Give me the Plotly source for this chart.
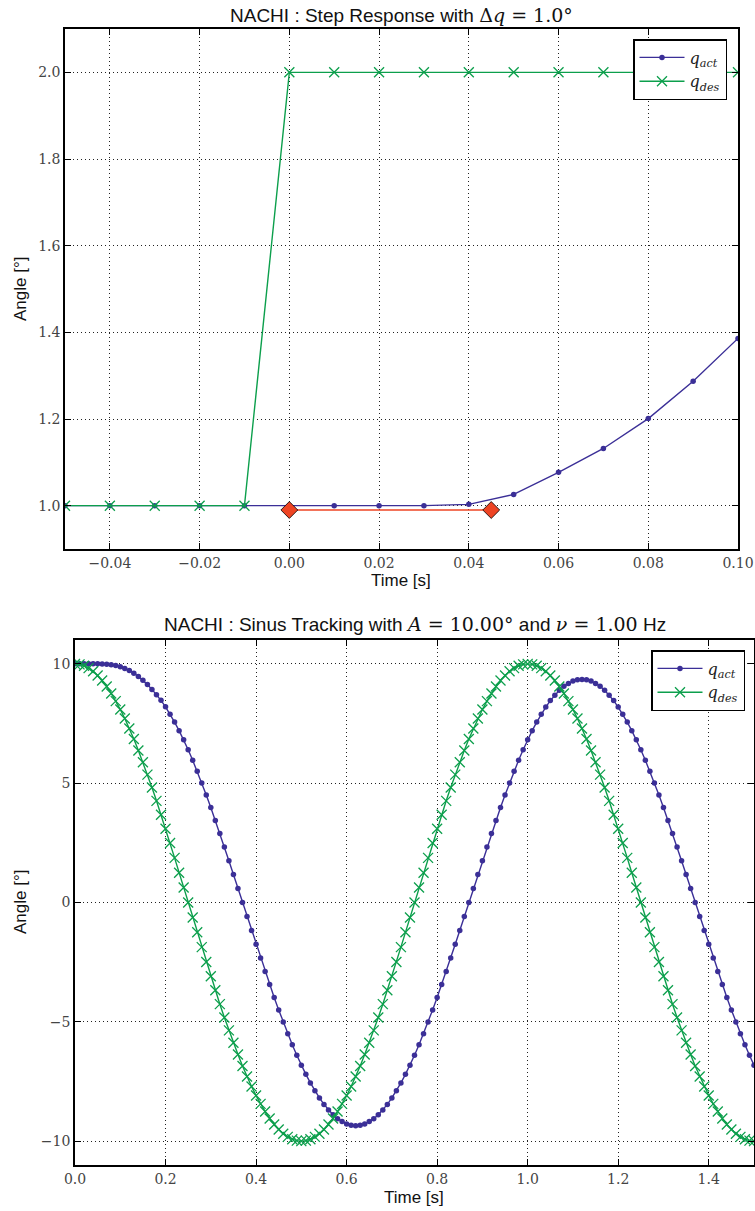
import plotly.graph_objects as go

# ---------------- data: step response ----------------
step_t = [-0.05, -0.04, -0.03, -0.02, -0.01, 0.00, 0.01, 0.02, 0.03, 0.04,
          0.05, 0.06, 0.07, 0.08, 0.09, 0.10]
step_q_act = [1.0, 1.0, 1.0, 1.0, 1.0, 1.0, 1.0, 1.0, 1.0, 1.003,
              1.026, 1.077, 1.132, 1.201, 1.287, 1.386]
step_q_des = [1.0, 1.0, 1.0, 1.0, 1.0, 2.0, 2.0, 2.0, 2.0, 2.0,
              2.0, 2.0, 2.0, 2.0, 2.0, 2.0]
delay_t = [0.0, 0.045]
delay_y = [0.99, 0.99]

# ---------------- data: sinus tracking ----------------
sin_t = [
    0.00, 0.01, 0.02, 0.03, 0.04, 0.05, 0.06, 0.07, 0.08, 0.09,
    0.10, 0.11, 0.12, 0.13, 0.14, 0.15, 0.16, 0.17, 0.18, 0.19,
    0.20, 0.21, 0.22, 0.23, 0.24, 0.25, 0.26, 0.27, 0.28, 0.29,
    0.30, 0.31, 0.32, 0.33, 0.34, 0.35, 0.36, 0.37, 0.38, 0.39,
    0.40, 0.41, 0.42, 0.43, 0.44, 0.45, 0.46, 0.47, 0.48, 0.49,
    0.50, 0.51, 0.52, 0.53, 0.54, 0.55, 0.56, 0.57, 0.58, 0.59,
    0.60, 0.61, 0.62, 0.63, 0.64, 0.65, 0.66, 0.67, 0.68, 0.69,
    0.70, 0.71, 0.72, 0.73, 0.74, 0.75, 0.76, 0.77, 0.78, 0.79,
    0.80, 0.81, 0.82, 0.83, 0.84, 0.85, 0.86, 0.87, 0.88, 0.89,
    0.90, 0.91, 0.92, 0.93, 0.94, 0.95, 0.96, 0.97, 0.98, 0.99,
    1.00, 1.01, 1.02, 1.03, 1.04, 1.05, 1.06, 1.07, 1.08, 1.09,
    1.10, 1.11, 1.12, 1.13, 1.14, 1.15, 1.16, 1.17, 1.18, 1.19,
    1.20, 1.21, 1.22, 1.23, 1.24, 1.25, 1.26, 1.27, 1.28, 1.29,
    1.30, 1.31, 1.32, 1.33, 1.34, 1.35, 1.36, 1.37, 1.38, 1.39,
    1.40, 1.41, 1.42, 1.43, 1.44, 1.45, 1.46, 1.47, 1.48, 1.49,
    1.50,
]
sin_q_des = [
    10.00, 9.98, 9.92, 9.82, 9.69, 9.51, 9.30, 9.05, 8.76, 8.44, 8.09, 7.71, 7.29,
    6.85, 6.37, 5.88, 5.36, 4.82, 4.26, 3.68, 3.09, 2.49, 1.87, 1.25, 0.63, 0.00,
    -0.63, -1.25, -1.87, -2.49, -3.09, -3.68, -4.26, -4.82, -5.36, -5.88, -6.37, -6.85,
    -7.29, -7.71, -8.09, -8.44, -8.76, -9.05, -9.30, -9.51, -9.69, -9.82, -9.92, -9.98, -10.00,
    -9.98, -9.92, -9.82, -9.69, -9.51, -9.30, -9.05, -8.76, -8.44, -8.09, -7.71, -7.29,
    -6.85, -6.37, -5.88, -5.36, -4.82, -4.26, -3.68, -3.09, -2.49, -1.87, -1.25, -0.63, 0.00,
    0.63, 1.25, 1.87, 2.49, 3.09, 3.68, 4.26, 4.82, 5.36, 5.88, 6.37, 6.85,
    7.29, 7.71, 8.09, 8.44, 8.76, 9.05, 9.30, 9.51, 9.69, 9.82, 9.92, 9.98, 10.00,
    9.98, 9.92, 9.82, 9.69, 9.51, 9.30, 9.05, 8.76, 8.44, 8.09, 7.71, 7.29,
    6.85, 6.37, 5.88, 5.36, 4.82, 4.26, 3.68, 3.09, 2.49, 1.87, 1.25, 0.63, 0.00,
    -0.63, -1.25, -1.87, -2.49, -3.09, -3.68, -4.26, -4.82, -5.36, -5.88, -6.37, -6.85,
    -7.29, -7.71, -8.09, -8.44, -8.76, -9.05, -9.30, -9.51, -9.69, -9.82, -9.92, -9.98, -10.00,
]
sin_q_act = [
    10.00, 10.00, 10.00, 10.00, 10.00, 10.00, 9.99, 9.98, 9.96, 9.93, 9.88,
    9.81, 9.72, 9.61, 9.47, 9.31, 9.13, 8.93, 8.71, 8.47, 8.20,
    7.89, 7.56, 7.20, 6.82, 6.40, 5.96, 5.50, 5.01, 4.50, 3.98, 3.44, 2.89,
    2.33, 1.75, 1.17, 0.59, 0.00,
    -0.59, -1.17, -1.75, -2.33, -2.89, -3.44, -3.98, -4.50, -5.01, -5.50, -5.96, -6.40,
    -6.82, -7.20, -7.56, -7.89, -8.19, -8.46, -8.69, -8.89, -9.06, -9.18, -9.28, -9.33, -9.35,
    -9.33, -9.28, -9.18, -9.06, -8.89, -8.69, -8.46, -8.19, -7.89, -7.56, -7.20, -6.82,
    -6.40, -5.96, -5.50, -5.01, -4.50, -3.98, -3.44, -2.89, -2.33, -1.75, -1.17, -0.59, 0.00,
    0.59, 1.17, 1.75, 2.33, 2.89, 3.44, 3.98, 4.50, 5.01, 5.50, 5.96, 6.40,
    6.82, 7.20, 7.56, 7.89, 8.19, 8.46, 8.69, 8.89, 9.06, 9.18, 9.28, 9.33, 9.35,
    9.33, 9.28, 9.18, 9.06, 8.89, 8.69, 8.46, 8.19, 7.89, 7.56, 7.20, 6.82,
    6.40, 5.96, 5.50, 5.01, 4.50, 3.98, 3.44, 2.89, 2.33, 1.75, 1.17, 0.59, 0.00,
    -0.59, -1.17, -1.75, -2.33, -2.89, -3.44, -3.98, -4.50, -5.01, -5.50, -5.96, -6.40, -6.82,
]

# tick values
step_xticks = [-0.04, -0.02, 0.00, 0.02, 0.04, 0.06, 0.08, 0.10]
step_yticks = [1.0, 1.2, 1.4, 1.6, 1.8, 2.0]
sin_xticks = [0.0, 0.2, 0.4, 0.6, 0.8, 1.0, 1.2, 1.4]
sin_yticks = [-10, -5, 0, 5, 10]

# ---------------- style ----------------
W, H = 755, 1211
BLUE = "#3b2f97"
GREEN = "#0c9f4c"
RED = "#ee4423"
SERIF = "DejaVu Serif"
SANS = "Liberation Sans"
MATH = "<span style='font-family:DejaVu Serif'>{}</span>"

def px_x(p):
    return p / W

def px_y(p):
    return 1 - p / H

fig = go.Figure()

# step response traces
fig.add_trace(go.Scatter(x=step_t, y=step_q_act, mode="lines+markers", name="<i>q</i><sub><i>act</i></sub>",
                         line=dict(color=BLUE, width=1.4), marker=dict(symbol="circle", size=5.5, color=BLUE),
                         xaxis="x", yaxis="y", legend="legend"))
fig.add_trace(go.Scatter(x=step_t, y=step_q_des, mode="lines+markers", name="<i>q</i><sub><i>des</i></sub>",
                         line=dict(color=GREEN, width=1.4),
                         marker=dict(symbol="x-thin", size=10, color=GREEN, line=dict(color=GREEN, width=1.3)),
                         xaxis="x", yaxis="y", legend="legend"))
fig.add_trace(go.Scatter(x=delay_t, y=delay_y, mode="lines+markers", showlegend=False,
                         line=dict(color=RED, width=1.6),
                         marker=dict(symbol="diamond", size=13, color=RED, line=dict(color="black", width=0.8)),
                         xaxis="x", yaxis="y"))

# sinus tracking traces
fig.add_trace(go.Scatter(x=sin_t, y=sin_q_act, mode="lines+markers", name="<i>q</i><sub><i>act</i></sub>",
                         line=dict(color=BLUE, width=1.4), marker=dict(symbol="circle", size=5.5, color=BLUE),
                         xaxis="x2", yaxis="y2", legend="legend2"))
fig.add_trace(go.Scatter(x=sin_t, y=sin_q_des, mode="lines+markers", name="<i>q</i><sub><i>des</i></sub>",
                         line=dict(color=GREEN, width=1.4),
                         marker=dict(symbol="x-thin", size=10, color=GREEN, line=dict(color=GREEN, width=1.3)),
                         xaxis="x2", yaxis="y2", legend="legend2"))

axis_common = dict(
    showline=True, linecolor="black", linewidth=1.6, mirror="allticks",
    ticks="inside", ticklen=6, tickwidth=1.2, tickcolor="black",
    showgrid=True, gridcolor="#222", gridwidth=1, griddash="1px,3px",
    zeroline=False, automargin=False,
    tickfont=dict(family=SERIF, size=14, color="#444"),
)

fig.update_layout(
    width=W, height=H, autosize=False, margin=dict(l=0, r=0, t=0, b=0),
    paper_bgcolor="white", plot_bgcolor="white",
    xaxis=dict(domain=[px_x(65), px_x(738)], anchor="y", range=[-0.05, 0.10],
               tickvals=step_xticks, tickformat=".2f", **axis_common),
    yaxis=dict(domain=[px_y(549), px_y(29)], anchor="x", range=[0.9, 2.1],
               tickvals=step_yticks, tickformat=".1f", **axis_common),
    xaxis2=dict(domain=[px_x(75), px_x(754)], anchor="y2", range=[0.0, 1.5],
                tickvals=sin_xticks, tickformat=".1f", **axis_common),
    yaxis2=dict(domain=[px_y(1165), px_y(640)], anchor="x2", range=[-11, 11],
                tickvals=sin_yticks, tickformat="d", **axis_common),
    legend=dict(x=px_x(727), y=px_y(39), xanchor="right", yanchor="top",
                bgcolor="white", bordercolor="black", borderwidth=1.5,
                font=dict(family=SERIF, size=16, color="#222"), itemwidth=45,
                tracegroupgap=0),
    legend2=dict(x=px_x(745), y=px_y(650), xanchor="right", yanchor="top",
                 bgcolor="white", bordercolor="black", borderwidth=1.5,
                 font=dict(family=SERIF, size=16, color="#222"), itemwidth=45,
                 tracegroupgap=0),
    showlegend=True,
)

title_font = dict(family=SANS, size=19, color="#111")
label_font = dict(family=SANS, size=17, color="#111")
annotations = [
    dict(text="NACHI : Step Response with " + MATH.format("Δ<i>q</i> = 1.0°"),
         x=px_x(401), y=px_y(15), xanchor="center", yanchor="middle", font=title_font),
    dict(text="NACHI : Sinus Tracking with " + MATH.format("<i>A</i> = 10.00°") + " and "
         + MATH.format("<i>ν</i> = 1.00") + " Hz",
         x=px_x(415), y=px_y(624), xanchor="center", yanchor="middle", font=title_font),
    dict(text="Time [s]", x=px_x(401), y=px_y(581), xanchor="center", yanchor="middle", font=label_font),
    dict(text="Time [s]", x=px_x(414), y=px_y(1197), xanchor="center", yanchor="middle", font=label_font),
    dict(text="Angle [°]", x=px_x(20), y=px_y(289), xanchor="center", yanchor="middle",
         textangle=-90, font=label_font),
    dict(text="Angle [°]", x=px_x(20), y=px_y(902), xanchor="center", yanchor="middle",
         textangle=-90, font=label_font),
]
for a in annotations:
    a.update(xref="paper", yref="paper", showarrow=False)
fig.update_layout(annotations=annotations)

fig.write_html(
    "out.html",
    config={"responsive": False, "displayModeBar": False},
    post_script="document.body.style.margin='0';document.body.style.overflow='hidden';",
)
